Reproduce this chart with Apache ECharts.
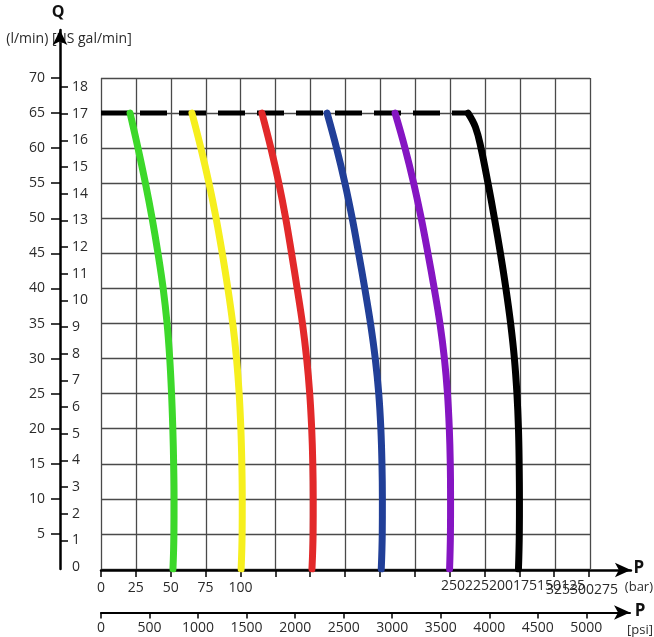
<!DOCTYPE html>
<html>
<head>
<meta charset="utf-8">
<script src="https://cdn.jsdelivr.net/npm/echarts@6/dist/echarts.min.js"></script>
<style>
html,body{margin:0;padding:0;background:#fff;}
#c{width:654px;height:637px;}
</style>
</head>
<body>
<div id="c"></div>
<script>
// Flow levels Q (l/min) shared by the first five curves
var qLevels = [65, 60, 55, 50, 45, 40, 35, 30, 25, 20, 15, 10, 5, 0];
// Pressure (bar) of each curve at those flow levels
var greenP  = [20.8, 26.5, 31.8, 36.6, 40.8, 44.5, 47.3, 49.2, 50.5, 51.4, 52.0, 52.3, 52.2, 51.5];
var yellowP = [65.1, 71.5, 77.3, 82.4, 86.8, 90.8, 94.3, 97.0, 98.9, 100.1, 100.8, 101.1, 101.0, 100.3];
var redP    = [115.2, 121.6, 127.3, 132.2, 136.4, 140.4, 144.2, 147.2, 149.4, 150.8, 151.6, 151.9, 151.8, 151.0];
var blueP   = [161.8, 168.6, 174.6, 179.8, 184.4, 188.8, 192.9, 196.3, 198.8, 200.3, 201.1, 201.4, 201.3, 200.6];
var purpleP = [210.5, 217.6, 223.8, 229.2, 234.0, 238.5, 242.6, 245.8, 248.0, 249.3, 250.0, 250.2, 250.1, 249.5];
// Black curve has its own flow levels (rounded start)
var blackQ  = [65, 63, 60, 55, 50, 45, 40, 35, 30, 25, 20, 15, 10, 5, 0];
var blackP  = [262.7, 268.0, 272.0, 277.0, 281.6, 285.9, 289.8, 293.2, 295.9, 297.7, 298.8, 299.3, 299.5, 299.4, 298.8];
// Dashed max-flow line
var maxFlowQ = 65;
var maxFlowP = [0, 262.7];

// Axis tick labels
var barTicks = [0,25,50,75,100,125,150,175,200,225,250,275,300,325,350];
var barLabels = [0, 25, 50, 75, 100];
var barGarbled1 = '250225200175150125';
var barGarbled2 = '325300275';
var psiTicks = [0,500,1000,1500,2000,2500,3000,3500,4000,4500,5000];
var lminTicks = [5,10,15,20,25,30,35,40,45,50,55,60,65,70];
var galTicks = [1,2,3,4,5,6,7,8,9,10,11,12,13,14,15,16,17,18];
var galLabels = [0,1,2,3,4,5,6,7,8,9,10,11,12,13,14,15,16,17,18];

var FONT = '"Open Sans", "Noto Sans", sans-serif';
var TXT = '#2a2a2a';

function zip(ps, qs) {
  return ps.map(function (p, i) { return [p, qs[i]]; });
}

var curves = [
  {name: 'c1', color: '#3cd82a', p: greenP, q: qLevels},
  {name: 'c2', color: '#f6ef1e', p: yellowP, q: qLevels},
  {name: 'c3', color: '#e2292a', p: redP, q: qLevels},
  {name: 'c4', color: '#213f98', p: blueP, q: qLevels},
  {name: 'c5', color: '#8515c2', p: purpleP, q: qLevels},
  {name: 'c6', color: '#000000', p: blackP, q: blackQ}
];

var series = [{
  type: 'line', xAxisIndex: 0, yAxisIndex: 0, showSymbol: false, silent: true,
  data: maxFlowP.map(function (p) { return [p, maxFlowQ]; }),
  lineStyle: {color: '#000', width: 5, type: [27, 12], cap: 'butt'},
  z: 3
}];
curves.forEach(function (c) {
  series.push({
    type: 'line', name: c.name, xAxisIndex: 0, yAxisIndex: 0,
    showSymbol: false, smooth: 0.4, silent: true,
    data: zip(c.p, c.q),
    lineStyle: {color: c.color, width: 7, cap: 'round', join: 'round'},
    z: 4
  });
});

var hidden = {show: false};
function dummyAxis(gi) {
  return {gridIndex: gi, type: 'value', show: false, min: 0, max: 1};
}
function plain(v) { return String(v); }

var option = {
  backgroundColor: '#fff',
  animation: false,
  textStyle: {fontFamily: FONT},
  grid: [
    {left: 101, top: 78, width: 489, height: 491},
    {left: 101, top: 560, width: 531, height: 10},
    {left: 101, top: 600, width: 531, height: 13},
    {left: 60, top: 30, width: 10, height: 539},
    {left: 60, top: 87, width: 10, height: 480}
  ],
  xAxis: [
    {gridIndex: 0, type: 'value', min: 0, max: 350, interval: 25,
     axisLine: hidden, axisTick: hidden, axisLabel: hidden,
     splitLine: {show: true, lineStyle: {color: '#4a4a4a', width: 1.3}}},
    {gridIndex: 1, type: 'value', min: 0, max: 380, position: 'bottom',
     axisLine: {show: true, symbol: ['none', 'arrow'], symbolSize: [11, 16], lineStyle: {color: '#000', width: 2.5}},
     axisTick: {show: true, customValues: barTicks, length: 7, lineStyle: {color: '#000', width: 1.5}},
     axisLabel: {show: true, customValues: barLabels, formatter: plain, margin: 11, fontSize: 14, color: TXT, fontFamily: FONT},
     splitLine: hidden,
     name: '{p|P}\n{u|(bar)}', nameLocation: 'end', nameGap: 8,
     nameTextStyle: {align: 'center', padding: [14, 0, 0, 0],
       rich: {p: {fontSize: 17, fontWeight: 'bold', color: '#111', lineHeight: 20, fontFamily: FONT, align: 'center'},
              u: {fontSize: 13, color: TXT, lineHeight: 18, fontFamily: FONT, align: 'center'}}}},
    {gridIndex: 2, type: 'value', min: 0, max: 5450, position: 'bottom',
     axisLine: {show: true, symbol: ['none', 'arrow'], symbolSize: [11, 16], lineStyle: {color: '#000', width: 2}},
     axisTick: {show: true, customValues: psiTicks, length: 6, lineStyle: {color: '#000', width: 1.5}},
     axisLabel: {show: true, customValues: psiTicks, formatter: plain, margin: 9, fontSize: 14, color: TXT, fontFamily: FONT},
     splitLine: hidden,
     name: '{p|P}\n{u|[psi]}', nameLocation: 'end', nameGap: 10,
     nameTextStyle: {align: 'center', padding: [16, 0, 0, 0],
       rich: {p: {fontSize: 17, fontWeight: 'bold', color: '#111', lineHeight: 20, fontFamily: FONT, align: 'center'},
              u: {fontSize: 13, color: TXT, lineHeight: 18, fontFamily: FONT, align: 'center'}}}},
    dummyAxis(3), dummyAxis(4)
  ],
  yAxis: [
    {gridIndex: 0, type: 'value', min: 0, max: 70, interval: 5,
     axisLine: hidden, axisTick: hidden, axisLabel: hidden,
     splitLine: {show: true, lineStyle: {color: '#4a4a4a', width: 1.3}}},
    dummyAxis(1), dummyAxis(2),
    {gridIndex: 3, type: 'value', min: 0, max: 76.85, position: 'left',
     axisLine: {show: true, symbol: ['none', 'arrow'], symbolSize: [11, 15], lineStyle: {color: '#000', width: 2.5}},
     axisTick: {show: true, customValues: lminTicks, length: 9, lineStyle: {color: '#000', width: 1.5}},
     axisLabel: {show: true, customValues: lminTicks, formatter: plain, margin: 15, fontSize: 14, color: TXT, fontFamily: FONT},
     splitLine: hidden,
     name: 'Q', nameLocation: 'end', nameGap: 10,
     nameTextStyle: {fontSize: 16, fontWeight: 'bold', color: '#111', fontFamily: FONT, align: 'center', padding: [0, 4, 0, 0]}},
    {gridIndex: 4, type: 'value', min: 0, max: 18, position: 'left',
     axisLine: hidden,
     axisTick: {show: true, inside: true, customValues: galTicks, length: 8, lineStyle: {color: '#000', width: 1.5}},
     axisLabel: {show: true, inside: true, customValues: galLabels, formatter: plain, margin: 12, fontSize: 14, color: TXT, fontFamily: FONT},
     splitLine: hidden,
     name: '(l/min) [US gal/min]', nameLocation: 'end', nameGap: 41,
     nameTextStyle: {fontSize: 14, color: TXT, fontFamily: FONT, align: 'center', padding: [0, 0, 0, 18]}}
  ],
  graphic: [
    {type: 'text', left: 441, top: 579, silent: true,
     style: {text: barGarbled1, fontSize: 14, fill: TXT, fontFamily: FONT}},
    {type: 'text', left: 546, top: 583, silent: true,
     style: {text: barGarbled2, fontSize: 14, fill: TXT, fontFamily: FONT}}
  ],
  series: series
};

var chart = echarts.init(document.getElementById('c'), null, {renderer: 'canvas'});
chart.setOption(option);
</script>
</body>
</html>
